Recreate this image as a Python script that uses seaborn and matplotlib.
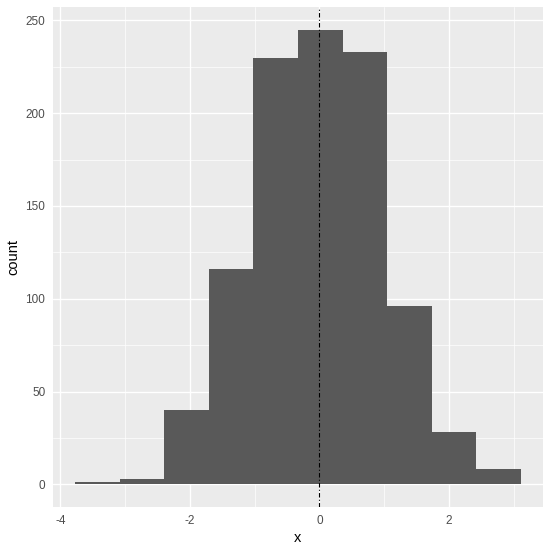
import numpy as np
import pandas as pd
import matplotlib
matplotlib.use("Agg")
import matplotlib.pyplot as plt
import seaborn as sns

# Data
bin_edges = [-3.77, -3.082, -2.394, -1.706, -1.018, -0.33, 0.358, 1.046, 1.734, 2.422, 3.11]
counts = [1, 3, 40, 116, 230, 245, 233, 96, 28, 8]
x_ticks = [-4, -2, 0, 2]
y_ticks = [0, 50, 100, 150, 200, 250]
vline_x = 0

centers = [(bin_edges[i] + bin_edges[i + 1]) / 2 for i in range(len(counts))]
df = pd.DataFrame({"x": centers, "w": counts})

sns.set_style("darkgrid")
plt.rcParams["font.family"] = ["Liberation Sans", "DejaVu Sans"]
plt.rcParams["axes.unicode_minus"] = False

W, H = 553, 552
fig = plt.figure(figsize=(W / 100, H / 100), dpi=100)
ax = fig.add_axes([53 / W, 1 - 507 / H, (543 - 53) / W, (507 - 7) / H])
ax.set_facecolor("#EBEBEB")

sns.histplot(data=df, x="x", weights="w", bins=bin_edges, color="#595959",
             alpha=1, edgecolor="none", linewidth=0, ax=ax, zorder=2)

ax.axvline(vline_x, color="black", linestyle=(0, (4, 2, 1, 2)), linewidth=0.8, zorder=3)

xr = bin_edges[-1] - bin_edges[0]
ax.set_xlim(bin_edges[0] - 0.05 * xr, bin_edges[-1] + 0.05 * xr)
ymax = max(counts)
ax.set_ylim(-0.05 * ymax, ymax * 1.05)

ax.set_xticks(x_ticks)
ax.set_yticks(y_ticks)
ax.set_xticklabels([str(t) for t in x_ticks])
ax.set_yticklabels([str(t) for t in y_ticks])
ax.set_xticks([-3, -1, 1, 3], minor=True)
ax.set_yticks([25, 75, 125, 175, 225], minor=True)
ax.grid(which="major", color="white", linewidth=1.0, zorder=0)
ax.grid(which="minor", color="white", linewidth=0.5, zorder=0)
ax.set_axisbelow(True)
for s in ax.spines.values():
    s.set_visible(False)

ax.tick_params(axis="both", which="major", length=3.5, width=0.8, color="#333333",
               labelcolor="#4D4D4D", labelsize=8.5, pad=2, direction="out")
ax.tick_params(axis="both", which="minor", length=0)
ax.set_xlabel("x", fontsize=10.5, color="black", labelpad=3)
ax.set_ylabel("count", fontsize=10.5, color="black", labelpad=4)

fig.savefig("out.png", dpi=100, facecolor="white")
